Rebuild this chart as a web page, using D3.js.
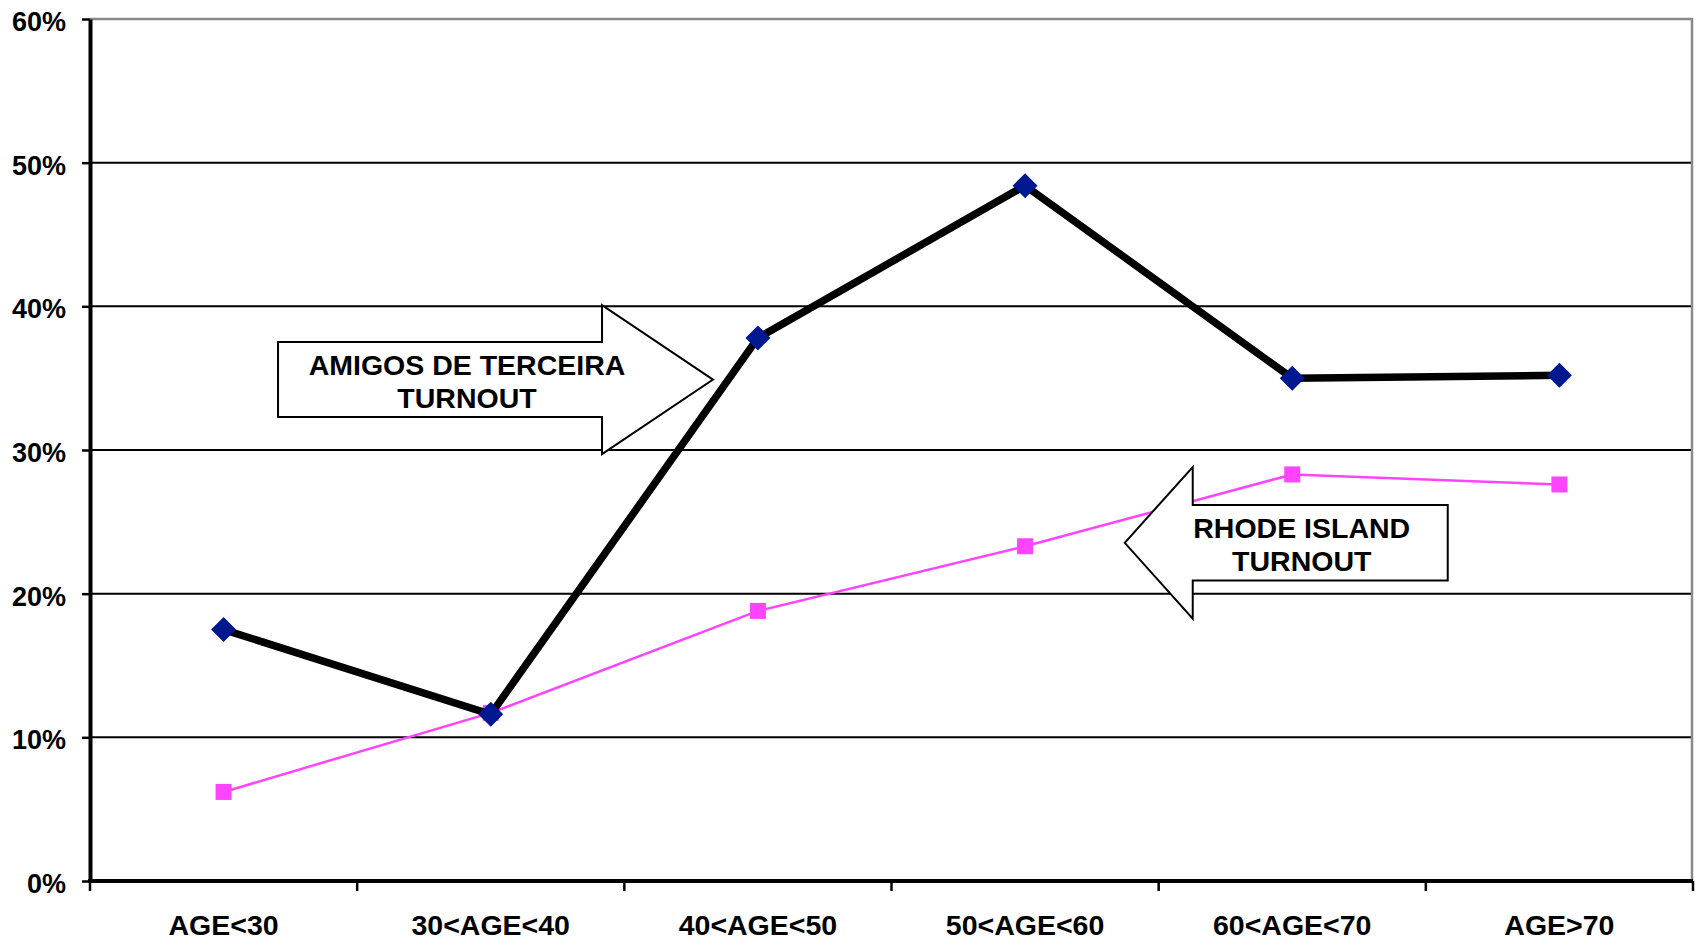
<!DOCTYPE html>
<html>
<head>
<meta charset="utf-8">
<script src="https://cdn.jsdelivr.net/npm/d3@7"></script>
<style>
  body { margin: 0; background: #fff; }
  text { font-family: "Liberation Sans", Arial, sans-serif; font-weight: bold; fill: #000; }
</style>
</head>
<body>
<script>
// age groups on the x axis
let categories = ["AGE<30", "30<AGE<40", "40<AGE<50", "50<AGE<60", "60<AGE<70", "AGE>70"];
// turnout shares (fraction)
let amigos = [0.175, 0.116, 0.378, 0.484, 0.350, 0.352];
let rhodeIsland = [0.062, 0.117, 0.188, 0.233, 0.283, 0.276];
let yTicks = [0, 0.1, 0.2, 0.3, 0.4, 0.5, 0.6];
let calloutAmigos = ["AMIGOS DE TERCEIRA", "TURNOUT"];
let calloutRI = ["RHODE ISLAND", "TURNOUT"];

let width = 1695, height = 943;
let plotLeft = 90, plotRight = 1693, plotTop = 19, plotBottom = 881;

let svg = d3.select("body").append("svg")
    .attr("width", width)
    .attr("height", height);

let x = d3.scaleBand().domain(categories).range([plotLeft, plotRight]);
let y = d3.scaleLinear().domain([0, 0.6]).range([plotBottom, plotTop]);
let cx = function (d) { return x(d) + x.bandwidth() / 2; };
// position inside the band grid, in band units
let xu = function (u) { return plotLeft + u * x.bandwidth(); };

// gridlines
svg.selectAll(".grid")
    .data(yTicks.filter(function (d) { return d > 0 && d < 0.6; }))
    .enter().append("line")
    .attr("class", "grid")
    .attr("x1", plotLeft).attr("x2", plotRight)
    .attr("y1", function (d) { return y(d); })
    .attr("y2", function (d) { return y(d); })
    .attr("stroke", "#000")
    .attr("stroke-width", 2);

// plot border (top / right)
svg.append("path")
    .attr("d", "M" + plotLeft + "," + y(0.6) + "H" + (plotRight - 1) + "V" + y(0))
    .attr("fill", "none")
    .attr("stroke", "#8a8a8a")
    .attr("stroke-width", 2.5);

// y axis
let yAxis = svg.append("g")
    .attr("transform", "translate(" + plotLeft + ",0)")
    .call(d3.axisLeft(y).tickValues(yTicks).tickFormat(d3.format(".0%"))
        .tickSizeInner(8).tickSizeOuter(0).tickPadding(16));
yAxis.select(".domain").attr("stroke", "#000").attr("stroke-width", 4);
yAxis.selectAll(".tick line").attr("stroke", "#000").attr("stroke-width", 2.5);
yAxis.selectAll(".tick text")
    .style("font-size", "27px")
    .attr("dy", "0.42em");

// x axis: labels centered in bands, tick marks at band edges
let edges = categories.map(function (d) { return x(d); }).concat([plotRight]);
svg.selectAll(".xtick")
    .data(edges)
    .enter().append("line")
    .attr("class", "xtick")
    .attr("x1", function (d) { return d; }).attr("x2", function (d) { return d; })
    .attr("y1", plotBottom).attr("y2", plotBottom + 10)
    .attr("stroke", "#000")
    .attr("stroke-width", 2.5);
svg.append("line")
    .attr("x1", plotLeft - 2).attr("x2", plotRight)
    .attr("y1", y(0)).attr("y2", y(0))
    .attr("stroke", "#000")
    .attr("stroke-width", 4);
svg.selectAll(".xlabel")
    .data(categories)
    .enter().append("text")
    .attr("class", "xlabel")
    .attr("x", cx)
    .attr("y", plotBottom + 54)
    .attr("text-anchor", "middle")
    .style("font-size", "28.5px")
    .text(function (d) { return d; });

// Rhode Island series
let line = d3.line()
    .x(function (d, i) { return cx(categories[i]); })
    .y(function (d) { return y(d); });

svg.append("path")
    .datum(rhodeIsland)
    .attr("d", line)
    .attr("fill", "none")
    .attr("stroke", "#ff44ff")
    .attr("stroke-width", 2.5);
svg.selectAll(".ri")
    .data(rhodeIsland)
    .enter().append("rect")
    .attr("class", "ri")
    .attr("x", function (d, i) { return cx(categories[i]) - 8; })
    .attr("y", function (d) { return y(d) - 8; })
    .attr("width", 16).attr("height", 16)
    .attr("fill", "#ff44ff");

// Amigos series
svg.append("path")
    .datum(amigos)
    .attr("d", line)
    .attr("fill", "none")
    .attr("stroke", "#000")
    .attr("stroke-width", 7.5)
    .attr("stroke-linejoin", "miter");
svg.selectAll(".am")
    .data(amigos)
    .enter().append("path")
    .attr("class", "am")
    .attr("transform", function (d, i) { return "translate(" + cx(categories[i]) + "," + y(d) + ")"; })
    .attr("d", "M0,-12.5L12.5,0L0,12.5L-12.5,0Z")
    .attr("fill", "#00188f");

// block-arrow callouts
function arrow(tipX, tipY, dir, total, head, bodyHalf, headHalf) {
    let b = tipX - dir * head, e = tipX - dir * total;
    return "M" + tipX + "," + tipY +
        "L" + b + "," + (tipY - headHalf) +
        "L" + b + "," + (tipY - bodyHalf) +
        "L" + e + "," + (tipY - bodyHalf) +
        "L" + e + "," + (tipY + bodyHalf) +
        "L" + b + "," + (tipY + bodyHalf) +
        "L" + b + "," + (tipY + headHalf) + "Z";
}
function callout(lines, tipX, tipY, dir, total, head, bodyHalf, headHalf, textX) {
    let g = svg.append("g");
    g.append("path")
        .attr("d", arrow(tipX, tipY, dir, total, head, bodyHalf, headHalf))
        .attr("fill", "#fff")
        .attr("stroke", "#000")
        .attr("stroke-width", 2);
    g.selectAll("text")
        .data(lines)
        .enter().append("text")
        .attr("x", textX)
        .attr("y", function (d, i) { return tipY - 5 + i * 33; })
        .attr("text-anchor", "middle")
        .style("font-size", "28.5px")
        .text(function (d) { return d; });
}
callout(calloutAmigos, xu(2.332), y(0.349), 1, 435, 111, 37.5, 74.5, xu(2.332) - 246);
callout(calloutRI, xu(3.873), y(0.2354), -1, 323, 68, 37.8, 75.8, xu(3.873) + 177);
</script>
</body>
</html>
